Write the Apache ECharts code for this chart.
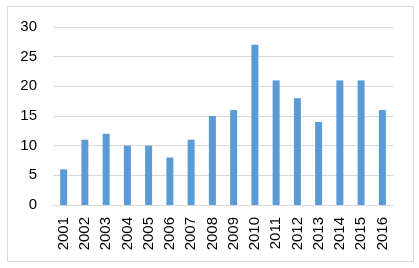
<!DOCTYPE html>
<html><head><meta charset="utf-8">
<script src="https://cdn.jsdelivr.net/npm/echarts@6/dist/echarts.min.js"></script>
<style>html,body{margin:0;padding:0;background:#fff}#c{width:419px;height:268px}</style>
</head><body><div id="c"></div>
<script>
const categories = ['2001','2002','2003','2004','2005','2006','2007','2008','2009','2010','2011','2012','2013','2014','2015','2016'];
const values = [6, 11, 12, 10, 10, 8, 11, 15, 16, 27, 21, 18, 14, 21, 21, 16];
const chart = echarts.init(document.getElementById('c'), null, {renderer:'canvas'});
const font = 'Liberation Sans, Arial, sans-serif';
chart.setOption({
  animation: false,
  graphic: [{type:'rect', shape:{x:7.5,y:6.5,width:406,height:255}, style:{fill:'none', stroke:'#D9D9D9', lineWidth:1}, silent:true}],
  grid: {left:53, right:26, top:27, bottom:63},
  xAxis: {type:'category', data:categories,
    axisLine:{lineStyle:{color:'#D9D9D9'}}, axisTick:{show:false},
    axisLabel:{rotate:90, margin:12, color:'#000', fontSize:15, fontFamily:font, interval:0}},
  yAxis: {type:'value', min:0, max:30, interval:5,
    axisLine:{show:false}, axisTick:{show:false},
    splitLine:{lineStyle:{color:'#D9D9D9'}},
    axisLabel:{margin:16, color:'#000', fontSize:15, fontFamily:font}},
  series: [{type:'bar', data:values, barWidth:7, itemStyle:{color:'#5B9BD5'}}]
});
</script></body></html>
